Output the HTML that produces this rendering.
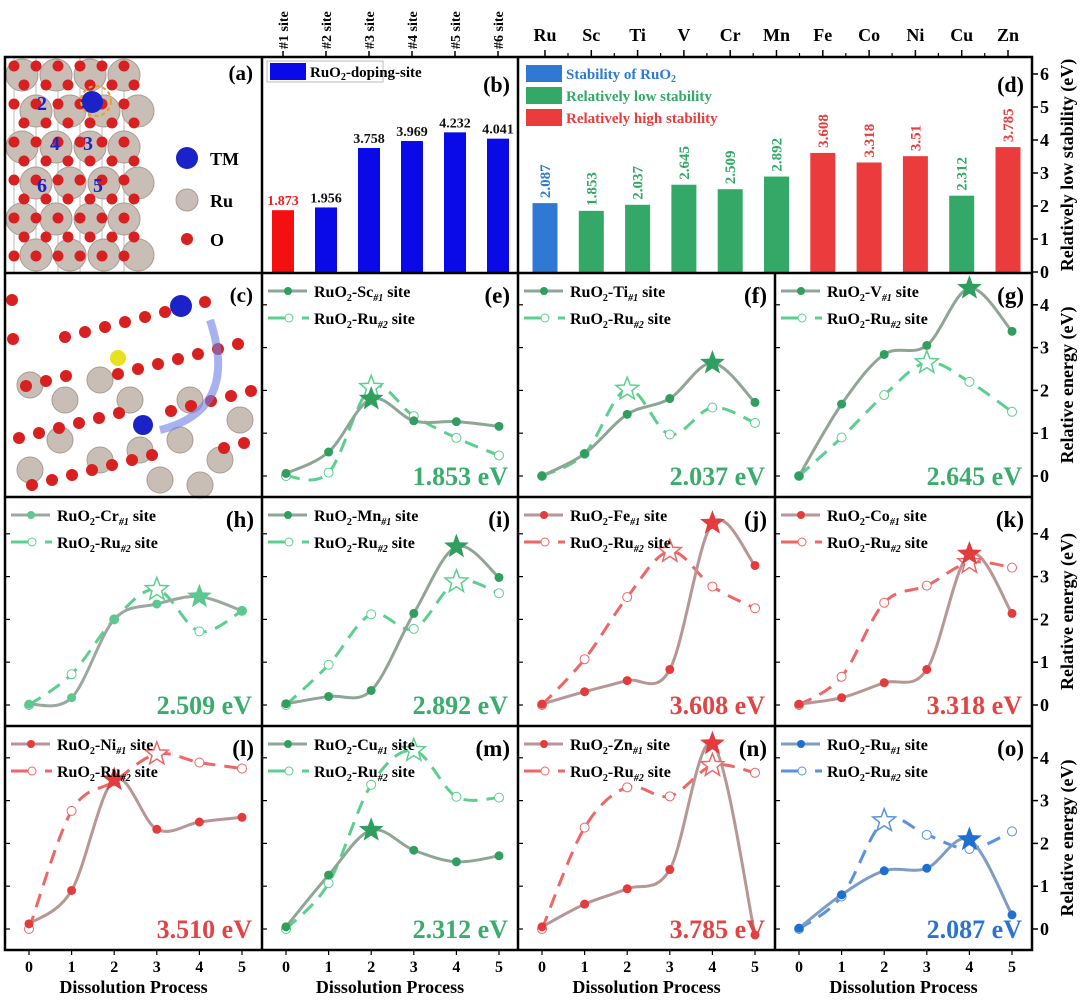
<!DOCTYPE html>
<html><head><meta charset="utf-8"><style>
body{margin:0;background:#fff}
svg{display:block;font-family:"Liberation Serif",serif;font-weight:bold}
</style></head><body>
<svg id="fig" width="1080" height="1000" viewBox="0 0 1080 1000" xmlns="http://www.w3.org/2000/svg"></svg>
<script>
// ---- Data ----
const bSites = ['#1 site','#2 site','#3 site','#4 site','#5 site','#6 site'];
const bValues = [1.873,1.956,3.758,3.969,4.232,4.041];
const bLabels = ['1.873','1.956','3.758','3.969','4.232','4.041'];
const dCats = ['Ru','Sc','Ti','V','Cr','Mn','Fe','Co','Ni','Cu','Zn'];
const dValues = [2.087,1.853,2.037,2.645,2.509,2.892,3.608,3.318,3.51,2.312,3.785];
const dLabels = ['2.087','1.853','2.037','2.645','2.509','2.892','3.608','3.318','3.51','2.312','3.785'];
const dGroups = ['blue','green','green','green','green','green','red','red','red','green','red'];
const xSteps = [0,1,2,3,4,5];
const eTM=[0.06,0.56,1.80,1.29,1.27,1.16], eRu=[0,0.08,2.07,1.40,0.89,0.48];
const fTM=[0,0.52,1.44,1.81,2.64,1.72], fRu=[0,0.52,2.03,0.97,1.60,1.24];
const gTM=[0,1.68,2.84,3.05,4.39,3.38], gRu=[0,0.90,1.89,2.65,2.20,1.50];
const hTM=[0.02,0.17,2.00,2.36,2.53,2.20], hRu=[0,0.72,2.00,2.70,1.72,2.20];
const iTM=[0.03,0.20,0.34,2.14,3.70,2.98], iRu=[0,0.94,2.12,1.78,2.88,2.61];
const jTM=[0.02,0.31,0.57,0.83,4.25,3.26], jRu=[0,1.07,2.52,3.59,2.77,2.26];
const kTM=[0.02,0.17,0.52,0.83,3.53,2.14], kRu=[0,0.66,2.39,2.79,3.33,3.21];
const lTM=[0.12,0.90,3.49,2.33,2.50,2.61], lRu=[0,2.76,3.45,4.09,3.89,3.75];
const mTM=[0.05,1.26,2.31,1.84,1.57,1.71], mRu=[0,1.07,3.37,4.17,3.09,3.07];
const nTM=[0.05,0.58,0.94,1.39,4.33,-0.14], nRu=[0,2.37,3.31,3.10,3.82,3.65];
const oTM=[0.02,0.80,1.36,1.42,2.09,0.33], oRu=[0,0.76,2.53,2.20,1.87,2.28];
const panelValues = ['1.853 eV','2.037 eV','2.645 eV','2.509 eV','2.892 eV','3.608 eV','3.318 eV','3.510 eV','2.312 eV','3.785 eV','2.087 eV'];
const panelElems = ['Sc','Ti','V','Cr','Mn','Fe','Co','Ni','Cu','Zn','Ru'];
const panelIds = ['e','f','g','h','i','j','k','l','m','n','o'];
const panelTM = [eTM,fTM,gTM,hTM,iTM,jTM,kTM,lTM,mTM,nTM,oTM];
const panelRu = [eRu,fRu,gRu,hRu,iRu,jRu,kRu,lRu,mRu,nRu,oRu];
const panelTheme = ['green','green','green','lgreen','green','red','red','red','green','red','blue'];

const NS='http://www.w3.org/2000/svg';
const svg=document.getElementById('fig');
function el(tag,attrs,parent,text){const e=document.createElementNS(NS,tag);for(const k in attrs)e.setAttribute(k,attrs[k]);if(text!==undefined)e.textContent=text;(parent||svg).appendChild(e);return e;}
const TH={
 green:{dot:'#2f9e5f',line:'#8fa596',dash:'#5ccf8f',text:'#3aac6c'},
 lgreen:{dot:'#5cc890',line:'#9aa8a0',dash:'#5ccf8f',text:'#3aac6c'},
 red:{dot:'#e43c3c',line:'#b89696',dash:'#ee6666',text:'#e04444'},
 blue:{dot:'#1f6fd1',line:'#7d9cc6',dash:'#5b92dd',text:'#2a74d0'}};
const BAR={blue:'#2f78d4',green:'#33a867',red:'#ea3c3c'};

// ---- Panel (a) structure ----
const ga=el('g',{});


for(let i=0;i<6;i++){el('line',{x1:14+i*22,y1:57,x2:14+i*22,y2:272,stroke:'#bbb','stroke-width':1},ga);}
for(let r=0;r<6;r++){for(let c=0;c<4;c++){const cx=22+c*34+(r%2)*14, cy=75+r*36;el('circle',{cx:cx,cy:cy,r:16,fill:'#c9beb6',stroke:'#a89c94'},ga);}}
for(let r=0;r<11;r++){for(let c=0;c<6;c++){const cx=14+c*22+(r%2)*10, cy=66+r*19;el('circle',{cx:cx,cy:cy,r:5.5,fill:'#d92020'},ga);}}
el('circle',{cx:92,cy:102,r:11,fill:'#1b22c8'},ga);
el('circle',{cx:96,cy:101,r:15,fill:'none',stroke:'#f0a020','stroke-width':2,'stroke-dasharray':'4 3'},ga);
[['2',42,110],['1',90,110],['4',55,150],['3',88,150],['6',42,192],['5',98,192]].forEach(t=>el('text',{x:t[1],y:t[2],fill:'#1b22c8','font-size':20,'text-anchor':'middle'},ga,t[0]));
el('circle',{cx:187,cy:158,r:11,fill:'#1b22c8'},ga);el('text',{x:210,y:165,'font-size':18},ga,'TM');
el('circle',{cx:187,cy:200,r:11,fill:'#c9beb6',stroke:'#a89c94'},ga);el('text',{x:210,y:207,'font-size':18},ga,'Ru');
el('circle',{cx:187,cy:239,r:6,fill:'#d92020'},ga);el('text',{x:210,y:246,'font-size':18},ga,'O');
el('text',{x:253,y:80,'font-size':21,'text-anchor':'end'},ga,'(a)');

// ---- Panel (c) structure ----
const gc=el('g',{});


const cs=[[30,385],[65,400],[100,380],[60,440],[100,460],[140,450],[180,440],[220,460],[30,470],[160,480],[200,485],[240,420],[130,400],[190,400]];
cs.forEach(p=>el('circle',{cx:p[0],cy:p[1],r:13,fill:'#c9beb6',stroke:'#a89c94'},gc));
for(let i=0;i<40;i++){const x=12+((i*53)%245), y=300+((i*37)%190);el('circle',{cx:x,cy:y,r:6,fill:'#d92020'},gc);}
el('circle',{cx:118,cy:358,r:8,fill:'#e8e020'},gc);
el('circle',{cx:181,cy:306,r:11,fill:'#1b22c8'},gc);
el('circle',{cx:143,cy:425,r:10,fill:'#1b22c8'},gc);
el('path',{d:'M160 430 Q240 410 210 320',fill:'none',stroke:'#6f7ee8','stroke-width':8,opacity:0.6},gc);
el('text',{x:253,y:302,'font-size':21,'text-anchor':'end'},gc,'(c)');

// ---- Panel (b) bars ----
const Y0=272, UNIT=33;
function yTop(v){return Y0-v*UNIT;}
function bx(i){return 283+i*43;}
const gb=el('g',{});


bValues.forEach((v,i)=>{
 const r=el('rect',{x:bx(i)-11,y:yTop(v),width:22,height:v*UNIT,fill:i===0?'#f41010':'#0a0ae8'},gb);
 
 
 el('text',{x:bx(i),y:yTop(v)-5,'font-size':14,'text-anchor':'middle',fill:i===0?'#e82020':'#111'},gb,bLabels[i]);
 el('line',{x1:bx(i),y1:57,x2:bx(i),y2:51,stroke:'#000','stroke-width':1.5},gb);
 const t=el('text',{transform:`translate(${bx(i)+5},49) rotate(-90)`,'font-size':14},gb,bSites[i]);
 
 
});
el('rect',{x:267,y:61,width:116,height:21,fill:'#fff',stroke:'#bbb'},gb);
el('rect',{x:270,y:63,width:36,height:17,fill:'#0a0ae8'},gb);
const bl=el('text',{x:310,y:77,'font-size':15},gb);
bl.innerHTML='RuO<tspan font-size="10" dy="3">2</tspan><tspan dy="-3">-doping-site</tspan>';
el('text',{x:510,y:92,'font-size':22,'text-anchor':'end'},gb,'(b)');

// ---- Panel (d) bars ----
function dx(i){return 545+i*46.3;}
const gd=el('g',{});


dValues.forEach((v,i)=>{
 const r=el('rect',{x:dx(i)-12.5,y:yTop(v),width:25,height:v*UNIT,fill:BAR[dGroups[i]]},gd);
 
 
 el('text',{transform:`translate(${dx(i)+5},${yTop(v)-5}) rotate(-90)`,'font-size':15,fill:BAR[dGroups[i]]},gd,dLabels[i]);
 el('line',{x1:dx(i),y1:57,x2:dx(i),y2:50,stroke:'#000','stroke-width':1.5},gd);
 if(i<10)el('line',{x1:dx(i)+23,y1:57,x2:dx(i)+23,y2:53,stroke:'#000','stroke-width':1.2},gd);
 const t=el('text',{x:dx(i),y:41,'font-size':18,'text-anchor':'middle'},gd,dCats[i]);
 
 
});
[['blue','Stability of RuO',true],['green','Relatively low stability',false],['red','Relatively high stability',false]].forEach((L,k)=>{
 const y=65+k*22;
 el('rect',{x:526,y:y,width:36,height:17,fill:BAR[L[0]]},gd);
 const t=el('text',{x:566,y:y+14,'font-size':15,fill:BAR[L[0]]},gd);
 t.innerHTML=L[1]+(L[2]?'<tspan font-size="10" dy="3">2</tspan>':'');
 
 
});
el('text',{x:1024,y:92,'font-size':22,'text-anchor':'end'},gd,'(d)');
for(let v=0;v<=6;v++){el('line',{x1:1032,y1:yTop(v),x2:1038,y2:yTop(v),stroke:'#000','stroke-width':1.5},gd);
 el('text',{x:1040,y:yTop(v)+6,'font-size':18},gd,String(v));}
const yt1=el('text',{transform:'translate(1073,165) rotate(-90)','font-size':18,'text-anchor':'middle'},svg,'Relatively low stability (eV)');



// ---- Line panels ----
const colsX=[5,262,518,775,1032];
const rowsY=[[273,497],[497,726],[726,950]];
function smooth(pts){let d=`M${pts[0][0]},${pts[0][1]}`;for(let i=0;i<pts.length-1;i++){const p0=pts[Math.max(i-1,0)],p1=pts[i],p2=pts[i+1],p3=pts[Math.min(i+2,pts.length-1)];
 const c1=[p1[0]+(p2[0]-p0[0])/6,p1[1]+(p2[1]-p0[1])/6],c2=[p2[0]-(p3[0]-p1[0])/6,p2[1]-(p3[1]-p1[1])/6];d+=` C${c1[0]},${c1[1]} ${c2[0]},${c2[1]} ${p2[0]},${p2[1]}`;}return d;}
function star(cx,cy,R){let d='';for(let k=0;k<10;k++){const r=k%2?R*0.42:R,a=-Math.PI/2+k*Math.PI/5;d+=(k?'L':'M')+(cx+r*Math.cos(a)).toFixed(1)+','+(cy+r*Math.sin(a)).toFixed(1);}return d+'Z';}
function argmax(a){let m=0;a.forEach((v,i)=>{if(v>a[m])m=i;});return m;}
function legendText(g,x,y,elem,num){const t=el('text',{x:x,y:y,'font-size':16},g);
 t.innerHTML=`RuO<tspan font-size="10" dy="4">2</tspan><tspan dy="-4">-${elem}</tspan><tspan font-size="10" font-style="italic" dy="4">#${num}</tspan><tspan dy="-4"> site</tspan>`;return t;}

for(let p=0;p<11;p++){
 const slot=p+1, row=Math.floor(slot/4), col=slot%4;
 const L=colsX[col], R=colsX[col+1], T=rowsY[row][0], B=rowsY[row][1];
 const zero=B-21, U=42.8;
 const X=i=>L+24+i*42.6, Y=v=>zero-v*U;
 const th=TH[panelTheme[p]];
 const g=el('g',{});
 
 
 for(let v=0;v<=4;v++)el('line',{x1:L,y1:Y(v),x2:L+5,y2:Y(v),stroke:'#000','stroke-width':1.2},g);
 if(col===3){for(let v=0;v<=4;v++){el('line',{x1:R,y1:Y(v),x2:R+6,y2:Y(v),stroke:'#000','stroke-width':1.5},g);el('text',{x:1040,y:Y(v)+6,'font-size':18},g,String(v));}
  const yt=el('text',{transform:`translate(1073,${(T+B)/2}) rotate(-90)`,'font-size':18,'text-anchor':'middle'},g,'Relative energy (eV)');
  
  }
 if(row===2){xSteps.forEach(i=>{el('line',{x1:X(i),y1:B,x2:X(i),y2:B+5,stroke:'#000','stroke-width':1.2},g);
   el('text',{x:X(i),y:B+22,'font-size':16,'text-anchor':'middle'},g,String(i));});
  const xt=el('text',{x:(L+R)/2,y:B+43,'font-size':18,'text-anchor':'middle'},g,'Dissolution Process');
  
  }
 const tm=panelTM[p], ru=panelRu[p];
 const pr=ru.map((v,i)=>[X(i),Y(v)]), pt=tm.map((v,i)=>[X(i),Y(v)]);
 const dl=el('path',{d:smooth(pr),fill:'none',stroke:th.dash,'stroke-width':3,'stroke-dasharray':'14 9'},g);
 
 
 const sl=el('path',{d:smooth(pt),fill:'none',stroke:th.line,'stroke-width':3},g);
 
 
 const sr=argmax(ru), st=argmax(tm);
 ru.forEach((v,i)=>{if(i!==sr){const c=el('circle',{cx:X(i),cy:Y(v),r:4.5,fill:'#fff',stroke:th.dash,'stroke-width':1},g);
  
  }});
 tm.forEach((v,i)=>{if(i!==st){const c=el('circle',{cx:X(i),cy:Y(v),r:4.5,fill:th.dot},g);
  
  }});
 const s1=el('path',{d:star(X(sr),Y(ru[sr]),12),fill:'#fff',stroke:th.dash,'stroke-width':1.5},g);
 
 
 const s2=el('path',{d:star(X(st),Y(tm[st]),13),fill:th.dot},g);
 
 
 // legend
 el('line',{x1:L+6,y1:T+18,x2:L+45,y2:T+18,stroke:th.line,'stroke-width':3},g);
 el('circle',{cx:L+26,cy:T+18,r:4,fill:th.dot},g);
 el('line',{x1:L+6,y1:T+45,x2:L+28,y2:T+45,stroke:th.dash,'stroke-width':3},g);
 el('line',{x1:L+40,y1:T+45,x2:L+47,y2:T+45,stroke:th.dash,'stroke-width':3},g);
 el('circle',{cx:L+27,cy:T+45,r:4,fill:'#fff',stroke:th.dash},g);
 const l1=legendText(g,L+52,T+24,panelElems[p],1);
 
 
 const l2=legendText(g,L+52,T+51,'Ru',2);
 
 
 el('text',{x:R-8,y:T+30,'font-size':23,'text-anchor':'end'},g,'('+panelIds[p]+')');
 const vt=el('text',{x:R-10,y:B-12,'font-size':26,'text-anchor':'end',fill:th.text},g,panelValues[p]);
 
 
}

// ---- Frames ----
const fr=el('g',{fill:'none',stroke:'#000','stroke-width':2.5});


el('rect',{x:5,y:57,width:1027,height:893},fr);
el('line',{x1:262,y1:57,x2:262,y2:950},fr);
el('line',{x1:518,y1:57,x2:518,y2:950},fr);
el('line',{x1:775,y1:273,x2:775,y2:950},fr);
[273,497,726].forEach(y=>el('line',{x1:5,y1:y,x2:1032,y2:y},fr));
</script>
</body></html>
